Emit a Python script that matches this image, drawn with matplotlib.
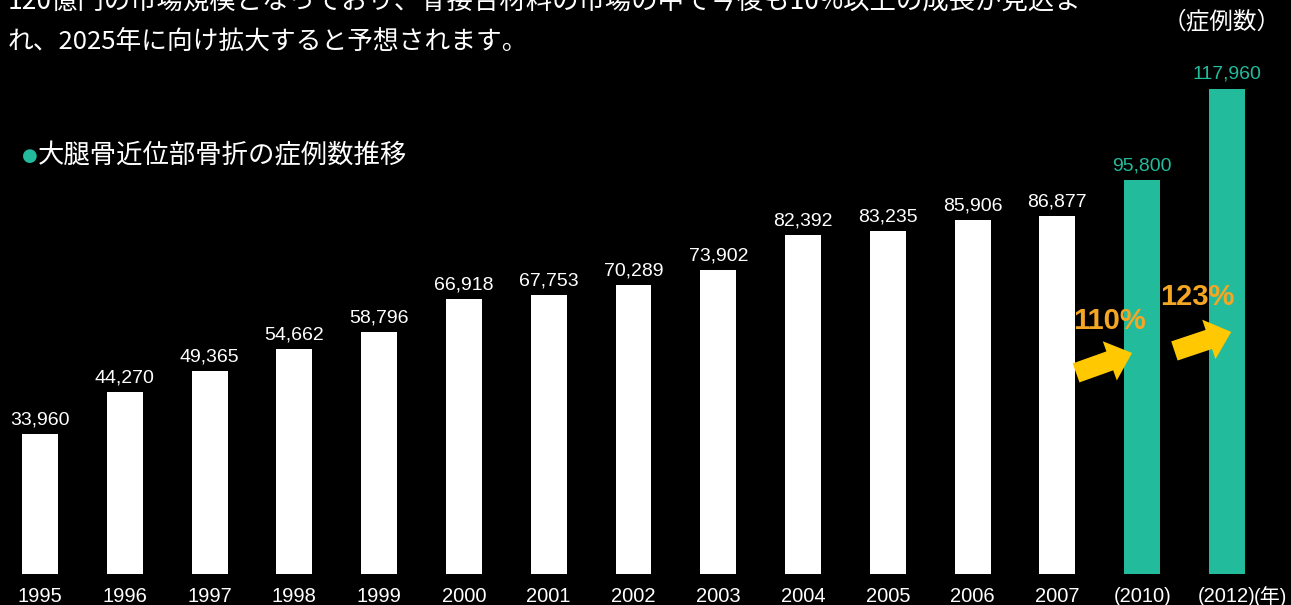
import matplotlib.pyplot as plt
from matplotlib.patches import FancyArrowPatch

plt.rcParams['font.family'] = ['Liberation Sans', 'Noto Sans CJK JP', 'DejaVu Sans']

# data
years = ['1995', '1996', '1997', '1998', '1999', '2000', '2001', '2002',
         '2003', '2004', '2005', '2006', '2007', '(2010)', '(2012)']
cases = [33960, 44270, 49365, 54662, 58796, 66918, 67753, 70289,
         73902, 82392, 83235, 85906, 86877, 95800, 117960]
is_forecast = [False] * 13 + [True, True]
growth_labels = ['110%', '123%']

white = '#FFFFFF'
teal = '#22BB9C'
yellow = '#FFC800'
orange = '#F5A623'

fig = plt.figure(figsize=(12.91, 6.05), dpi=100, facecolor='black')
# axes placed so the baseline sits at y=574px and 117,960 at y=89px
ax = fig.add_axes([0, 31 / 605, 1, 535 / 605])
ax.set_facecolor('black')

x = list(range(len(years)))
colors = [teal if f else white for f in is_forecast]
ax.bar(x, cases, width=0.4245, color=colors, zorder=2)

for i, v in enumerate(cases):
    ax.annotate(f'{v:,}', (i, v), xytext=(0, 4), textcoords='offset points',
                ha='center', va='bottom', fontsize=14,
                color=teal if is_forecast[i] else white)

ax.set_xlim(-0.472, 14.755)
ax.set_ylim(0, 130000)
ax.set_xticks(x)
ax.set_xticklabels(years)
ax.tick_params(axis='x', length=0, pad=20.5, labelsize=14.5, colors=white)
plt.setp(ax.get_xticklabels(), va='baseline')
ax.set_yticks([])
for s in ax.spines.values():
    s.set_visible(False)

# growth arrows (tail -> tip in data coords)
arrows = [((12.22, 48860), (12.88, 53720)), ((13.38, 54200), (14.05, 58820))]
for (tail, tip) in arrows:
    ax.add_patch(FancyArrowPatch(tail, tip, arrowstyle='simple,head_length=1.7,head_width=3.0,tail_width=1.45',
                                 mutation_scale=10, color=yellow, shrinkA=0, shrinkB=0,
                                 zorder=4, linewidth=0))
ax.text(12.62, 61400, growth_labels[0], ha='center', va='center', fontsize=21,
        fontweight='bold', color=orange, zorder=5)
ax.text(13.65, 67200, growth_labels[1], ha='center', va='center', fontsize=21,
        fontweight='bold', color=orange, zorder=5)

# texts around the chart
fig.text(1270 / 1291, 1 - 603 / 605, '(年)', ha='center', va='baseline', fontsize=14.5, color=white)
fig.text(1222 / 1291, 1 - 22 / 605, '（症例数）', ha='center', va='center', fontsize=17, color=white,
         family=['Noto Sans CJK JP'])
fig.text(22 / 1291, 1 - 156 / 605, '●', ha='left', va='center', fontsize=13, color=teal,
         family=['DejaVu Sans'])
fig.text(38 / 1291, 1 - 156 / 605, '大腿骨近位部骨折の症例数推移', ha='left', va='center',
         fontsize=19, color=white, family=['Noto Sans CJK JP'])
fig.text(8 / 1291, 1 - 1 / 605,
         '120億円の市場規模となっており、骨接合材料の市場の中で今後も10%以上の成長が見込ま',
         ha='left', va='center', fontsize=19, color=white, family=['Noto Sans CJK JP'])
fig.text(8 / 1291, 1 - 42 / 605, 'れ、2025年に向け拡大すると予想されます。',
         ha='left', va='center', fontsize=18.5, color=white, family=['Noto Sans CJK JP'])

fig.savefig('out.png', dpi=100, facecolor='black')
